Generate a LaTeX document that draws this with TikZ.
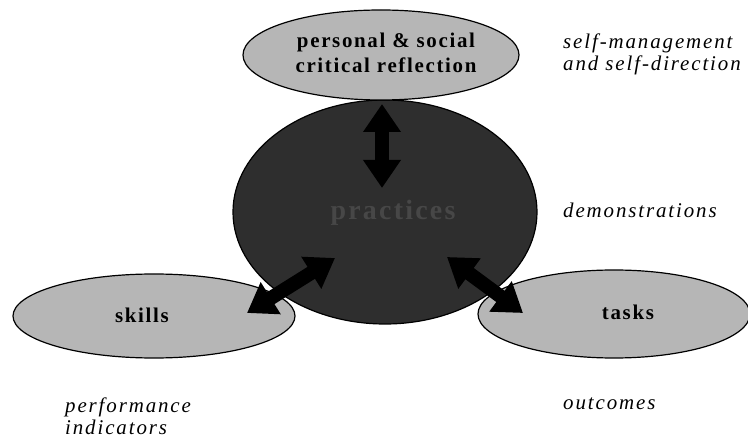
\documentclass[tikz,border=0pt]{standalone}
\usepackage{fontspec}
\setmainfont{Liberation Serif}
\newfontfamily\labfont[LetterSpace=9]{Liberation Serif}
\newfontfamily\boldlab[LetterSpace=8]{Liberation Serif}
\usetikzlibrary{shapes.geometric,arrows.meta}
\definecolor{lightg}{HTML}{B6B6B6}
\definecolor{darkg}{HTML}{2E2E2E}
\definecolor{dimtext}{HTML}{474747}
\tikzset{
  oval/.style={ellipse, draw=black, line width=1.2bp, inner sep=0pt},
  lightoval/.style={oval, fill=lightg},
  darkoval/.style={oval, fill=darkg},
  boldtxt/.style={font=\boldlab\bfseries\fontsize{21}{25}\selectfont, align=center, inner sep=0pt},
  itxt/.style={font=\labfont\itshape\fontsize{21}{22}\selectfont, align=left, anchor=west, inner sep=0pt},
  bigarrow/.style={line width=14bp, {Triangle[width=36bp,length=28bp]}-{Triangle[width=36bp,length=28bp]}}
}
\begin{document}
\begin{tikzpicture}[x=1bp,y=-1bp]
\useasboundingbox (0,0) rectangle (748,439);
% ellipses
\node[darkoval, minimum width=304bp, minimum height=224bp] (center) at (385,212) {};
\node[lightoval, minimum width=282bp, minimum height=84bp] (skillsE) at (154,316) {};
\node[lightoval, minimum width=272bp, minimum height=88bp] (tasksE) at (614,314) {};
\node[lightoval, minimum width=276bp, minimum height=90bp] (topE) at (381,55) {};
% labels in ellipses
\node[boldtxt] (toplab) at (386,53) {personal \& social\\critical reflection};
\node[boldtxt] (skills) at (142,315) {skills};
\node[boldtxt] (tasks) at (628,312) {tasks};
\node[font=\boldlab\bfseries\fontsize{28}{32}\selectfont, text=dimtext, inner sep=0pt] (practices) at (393,213) {practices};
% side labels
\node[itxt] (selfm) at (563,54) {self-management\\and self-direction};
\node[itxt] (demo) at (563,210) {demonstrations};
\node[itxt] (outc) at (563,404) {outcomes};
\node[itxt] (perf) at (65,416) {performance\\indicators};
% arrow ends
\coordinate (v1) at (382,104);
\coordinate (v2) at (382,188);
\coordinate (l1) at (247,313);
\coordinate (l2) at (335,258);
\coordinate (r1) at (447,257);
\coordinate (r2) at (523,313);
\draw[bigarrow] (v1) -- (v2);
\draw[bigarrow] (l1) -- (l2);
\draw[bigarrow] (r1) -- (r2);
\end{tikzpicture}
\end{document}
